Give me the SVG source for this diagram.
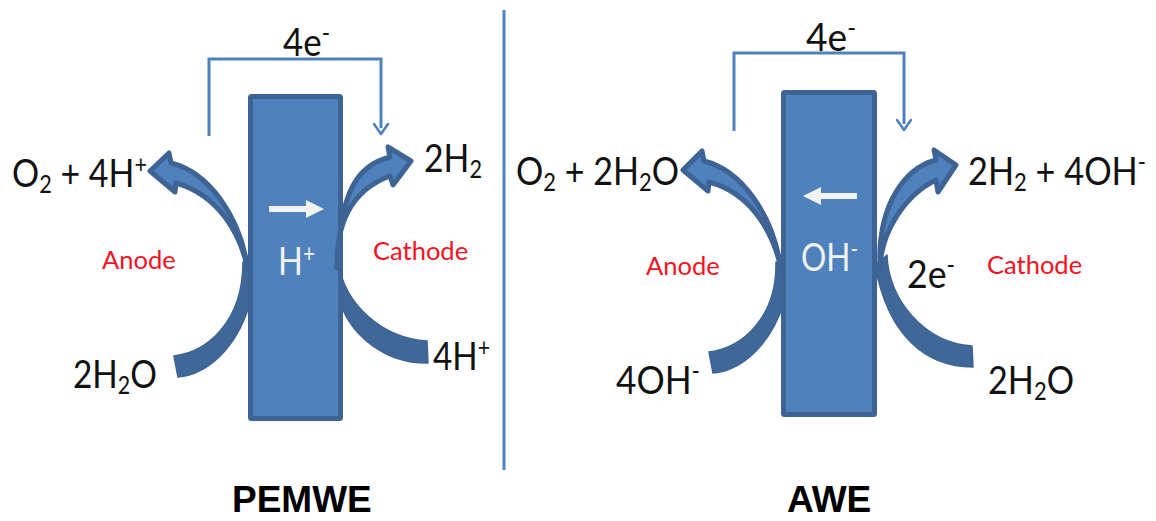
<svg xmlns="http://www.w3.org/2000/svg" width="1156" height="521" viewBox="0 0 1156 521">
<style>
text{font-family:Lato,"Liberation Sans",sans-serif;fill:#111}
.l{font-size:39px}
.r{font-size:25.5px;fill:#f5111f}
.w{font-size:39px;fill:#f2f2f2}
.t{font-family:"Liberation Sans",Arial,sans-serif;font-size:37px;font-weight:bold;fill:#000}
.s{font-size:25px}
.block{fill:#4f81bd;stroke:#3d6495;stroke-width:5;stroke-linejoin:round}
.up{fill:#4f81bd;stroke:#3d6495;stroke-width:5;stroke-linejoin:round}
.low{fill:#3f6899;stroke:#3d6495;stroke-width:1.5;stroke-linejoin:round}
.wire{fill:none;stroke:#4f81bd;stroke-width:3}
.wh{fill:none;stroke:#4f81bd;stroke-width:2.5;stroke-linecap:round;stroke-linejoin:round}
.ion{fill:#f2f2f2}
</style>
<g id="connectors">
<line class="wire" x1="504" y1="10" x2="504" y2="470"/>
<path class="wire" d="M209,136V59H381V128"/>
<path class="wh" d="M374,124L381,134L388,124"/>
<path class="wire" d="M734,131V53H904V124"/>
<path class="wh" d="M897,120L904,130L911,120"/>
</g>
<g id="pem-anode-in"><path class="low" d="M174,356C207,352 243,322 243,262L249,262L249,306C236,348 208,374 178,377Z"/></g>
<g id="pem-cathode-out"><path class="low" d="M338,262C345,305 382,338 427,341L428,363C385,364 352,335 341,305Z"/></g>
<g id="awe-anode-in"><path class="low" d="M709,352C742,348 777,318 776,262L784,262L784,302C771,344 743,370 713,373Z"/></g>
<g id="awe-cathode-in"><path class="low" d="M887,255C888,300 925,343 972,346L973,367C925,367 888,335 875,265Z"/></g>
<g id="pem-membrane"><rect class="block" x="250.5" y="96.5" width="90" height="322" rx="1"/>
<path class="ion" d="M269,206H306V200L324,209L306,218V212H269Z"/>
<text class="w" x="278" y="275" textLength="37" lengthAdjust="spacingAndGlyphs">H<tspan class="s" dy="-13">+</tspan></text></g>
<g id="awe-membrane"><rect class="block" x="783.5" y="92.5" width="91" height="322" rx="1"/>
<path class="ion" d="M857,193H821V187L803,196L821,205V199H857Z"/>
<text class="w" x="801" y="271" textLength="57" lengthAdjust="spacingAndGlyphs">OH<tspan class="s" dy="-13">-</tspan></text></g>
<g id="pem-anode-out"><path class="up" d="M150,171L169,153L171,163C208,172 240,215 248,270C240,232 218,195 176,183L175,192Z"/></g>
<g id="pem-cathode-arrow"><path class="up" d="M411,161L388,147L390,157C358,165 340,190 337,268C336,222 352,190 390,176L393,185Z"/></g>
<g id="awe-anode-out"><path class="up" d="M683,170L702,151L704,161C741,170 773,214 781,269C775,239 755,194 709,182L708,191Z"/></g>
<g id="awe-cathode-out"><path class="up" d="M956,165L934,150L936,160C905,168 877,205 880,268C881,232 905,195 936,180L938,192Z"/></g>
<g id="pem-labels">
<text class="l" x="283" y="56" textLength="47" lengthAdjust="spacingAndGlyphs">4e<tspan class="s" dy="-14">-</tspan></text>
<text class="l" x="12" y="187" textLength="135" lengthAdjust="spacingAndGlyphs">O<tspan class="s" dy="6">2</tspan><tspan dy="-6"> + 4H</tspan><tspan class="s" dy="-14">+</tspan></text>
<text class="l" x="424" y="172" textLength="58" lengthAdjust="spacingAndGlyphs">2H<tspan class="s" dy="6">2</tspan></text>
<text class="l" x="73" y="388" textLength="84" lengthAdjust="spacingAndGlyphs">2H<tspan class="s" dy="6">2</tspan><tspan dy="-6">O</tspan></text>
<text class="l" x="433" y="370" textLength="57" lengthAdjust="spacingAndGlyphs">4H<tspan class="s" dy="-14">+</tspan></text>
<text class="r" x="102" y="269">Anode</text>
<text class="r" x="373" y="260">Cathode</text>
<text class="t" x="232" y="512">PEMWE</text>
</g>
<g id="awe-labels">
<text class="l" x="806" y="51" textLength="50" lengthAdjust="spacingAndGlyphs">4e<tspan class="s" dy="-14">-</tspan></text>
<text class="l" x="516" y="185" textLength="163" lengthAdjust="spacingAndGlyphs">O<tspan class="s" dy="6">2</tspan><tspan dy="-6"> + 2H</tspan><tspan class="s" dy="6">2</tspan><tspan dy="-6">O</tspan></text>
<text class="l" x="968" y="185" textLength="178" lengthAdjust="spacingAndGlyphs">2H<tspan class="s" dy="6">2</tspan><tspan dy="-6"> + 4OH</tspan><tspan class="s" dy="-14">-</tspan></text>
<text class="l" x="907" y="288" textLength="48" lengthAdjust="spacingAndGlyphs">2e<tspan class="s" dy="-14">-</tspan></text>
<text class="l" x="616" y="394" textLength="84" lengthAdjust="spacingAndGlyphs">4OH<tspan class="s" dy="-14">-</tspan></text>
<text class="l" x="988" y="394" textLength="86" lengthAdjust="spacingAndGlyphs">2H<tspan class="s" dy="6">2</tspan><tspan dy="-6">O</tspan></text>
<text class="r" x="646" y="275">Anode</text>
<text class="r" x="987" y="274">Cathode</text>
<text class="t" x="787" y="512">AWE</text>
</g>
</svg>
